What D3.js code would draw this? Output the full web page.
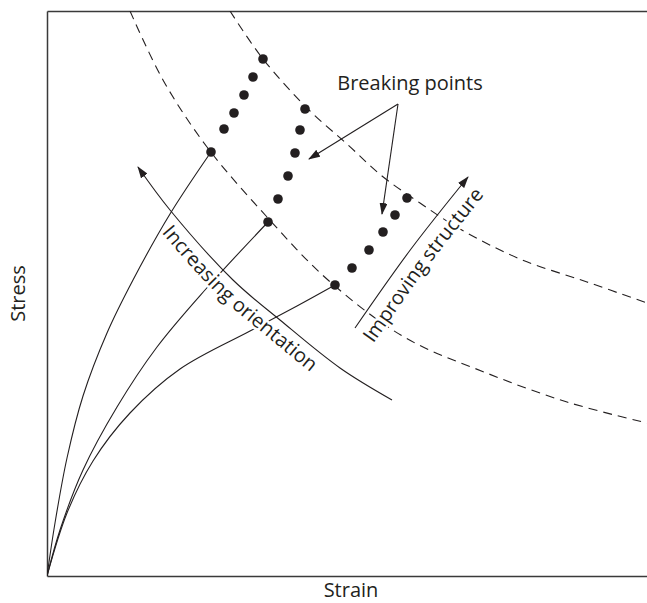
<!DOCTYPE html>
<html>
<head>
<meta charset="utf-8">
<script src="https://cdn.jsdelivr.net/npm/d3@7"></script>
<style>
body { margin: 0; background: #fff; }
svg text { font-family: "Open Sans", sans-serif; fill: #231f20; font-size: 20px; }
</style>
</head>
<body>
<div id="chart"></div>
<script>
// stress-strain curves, [strain, stress] in arbitrary units
const curveHigh = [[0, 0], [8, 53], [20, 118], [36, 180], [60, 243], [86, 296], [123, 362], [164, 424]];
const curveMid = [[0, 0], [13, 46], [36, 106], [70, 169], [110, 229], [158, 286], [221, 354]];
const curveLow = [[0, 0], [20, 63], [46, 115], [83, 163], [133, 207], [203, 245], [250, 270], [288, 291]];

// breaking points of each family
const breaksHigh = [[164, 424], [177, 447], [187, 463], [197, 481], [206, 499], [216, 517]];
const breaksMid = [[221, 354], [231, 377], [241, 400], [248, 423], [253, 446], [258, 467]];
const breaksLow = [[288, 291], [305, 308], [322, 326], [336, 344], [348, 361], [360, 378]];

// dashed envelopes
const envelopeInner = [[83, 565], [116, 496], [160, 429], [220, 359], [281, 296], [357, 239], [437, 204], [520, 174], [600, 153]];
const envelopeOuter = [[183, 565], [216, 517], [263, 465], [300, 432], [335, 400], [373, 373], [413, 347], [473, 317], [540, 294], [600, 273]];

// annotation arrows
const orientationArrow = [[345, 176], [293, 208], [233, 256], [186, 296], [123, 366], [91, 409]];
const structureArrow = [[308, 248], [364, 327], [421, 399]];
const breakLabelAnchor = [363, 486];
const breakArrows = [
	[[351, 472], [262, 417]],
	[[351, 472], [335, 362]]
];

const margin = { top: 11, right: 0, bottom: 27, left: 47 },
	width = 600,
	height = 565;

const ink = "#231f20";

const svg = d3.select("#chart").append("svg")
	.attr("width", width + margin.left + margin.right)
	.attr("height", height + margin.top + margin.bottom);

const defs = svg.append("defs");

defs.append("marker")
	.attr("id", "head")
	.attr("markerUnits", "userSpaceOnUse")
	.attr("viewBox", "0 0 12 8")
	.attr("markerWidth", 12)
	.attr("markerHeight", 8)
	.attr("refX", 11)
	.attr("refY", 4)
	.attr("orient", "auto")
	.append("path")
	.attr("d", "M0,0L12,4L0,8z")
	.attr("fill", ink);

defs.append("clipPath")
	.attr("id", "plot-clip")
	.append("rect")
	.attr("width", width)
	.attr("height", height);

const g = svg.append("g")
	.attr("transform", "translate(" + margin.left + "," + margin.top + ")");

const x = d3.scaleLinear().domain([0, 600]).range([0, width]);
const y = d3.scaleLinear().domain([0, 565]).range([height, 0]);

// frame: left, top and bottom only
g.append("g")
	.attr("transform", "translate(0," + height + ")")
	.call(d3.axisBottom(x).tickValues([]).tickSizeOuter(0));
g.append("g")
	.call(d3.axisLeft(y).tickValues([]).tickSizeOuter(0));
g.append("g")
	.call(d3.axisTop(x).tickValues([]).tickSizeOuter(0));
g.selectAll(".domain")
	.attr("stroke", "#3a3a3a")
	.attr("stroke-width", 1.5);

const smooth = d3.line()
	.x(d => x(d[0]))
	.y(d => y(d[1]))
	.curve(d3.curveCatmullRom.alpha(0.5));

const plot = g.append("g").attr("clip-path", "url(#plot-clip)");

[curveHigh, curveMid, curveLow].forEach(c => {
	plot.append("path")
		.datum(c)
		.attr("d", smooth)
		.attr("fill", "none")
		.attr("stroke", ink)
		.attr("stroke-width", 1.1);
});

[envelopeInner, envelopeOuter].forEach(c => {
	plot.append("path")
		.datum(c)
		.attr("d", smooth)
		.attr("fill", "none")
		.attr("stroke", ink)
		.attr("stroke-width", 1.1)
		.attr("stroke-dasharray", "9,6");
});

plot.selectAll("circle.brk")
	.data(breaksHigh.concat(breaksMid, breaksLow))
	.enter().append("circle")
	.attr("class", "brk")
	.attr("cx", d => x(d[0]))
	.attr("cy", d => y(d[1]))
	.attr("r", 4.8)
	.attr("fill", ink);

g.append("path")
	.datum(orientationArrow)
	.attr("d", smooth)
	.attr("fill", "none")
	.attr("stroke", ink)
	.attr("stroke-width", 1.1)
	.attr("marker-end", "url(#head)");

g.append("path")
	.datum(structureArrow)
	.attr("d", smooth)
	.attr("fill", "none")
	.attr("stroke", ink)
	.attr("stroke-width", 1.1)
	.attr("marker-end", "url(#head)");

breakArrows.forEach(a => {
	g.append("path")
		.datum(a)
		.attr("d", smooth)
		.attr("fill", "none")
		.attr("stroke", ink)
		.attr("stroke-width", 1.1)
		.attr("marker-end", "url(#head)");
});

// baseline path running alongside an arrow, on the text's lower side
function offsetPath(pts, dist, ext) {
	const px = pts.map(d => [x(d[0]), y(d[1])]);
	const out = px.map((p, i) => {
		const a = px[Math.max(i - 1, 0)], b = px[Math.min(i + 1, px.length - 1)];
		const dx = b[0] - a[0], dy = b[1] - a[1], len = Math.hypot(dx, dy);
		return [p[0] - dy / len * dist, p[1] + dx / len * dist];
	});
	const s0 = out[0], s1 = out[1];
	const l = Math.hypot(s1[0] - s0[0], s1[1] - s0[1]);
	out.unshift([s0[0] - (s1[0] - s0[0]) / l * ext, s0[1] - (s1[1] - s0[1]) / l * ext]);
	return d3.line().curve(d3.curveCatmullRom)(out);
}

defs.append("path")
	.attr("id", "orient-path")
	.attr("d", offsetPath(orientationArrow.slice().reverse(), 21, 0));
defs.append("path")
	.attr("id", "struct-path")
	.attr("d", offsetPath(structureArrow, 24, 15));

const haloText = sel => sel
	.attr("stroke", "#fff")
	.attr("stroke-width", 5)
	.attr("stroke-linejoin", "round")
	.attr("paint-order", "stroke");

g.append("text")
	.call(haloText)
	.append("textPath")
	.attr("href", "#orient-path")
	.attr("startOffset", 67)
	.text("Increasing orientation");

g.append("text")
	.call(haloText)
	.append("textPath")
	.attr("href", "#struct-path")
	.attr("startOffset", 13)
	.text("Improving structure");

g.append("text")
	.attr("x", x(breakLabelAnchor[0]))
	.attr("y", y(breakLabelAnchor[1]))
	.attr("text-anchor", "middle")
	.text("Breaking points");

// axis titles
g.append("text")
	.attr("x", width / 2 + 4)
	.attr("y", height + 21)
	.attr("text-anchor", "middle")
	.text("Strain");

g.append("text")
	.attr("transform", "translate(-22," + (height / 2) + ") rotate(-90)")
	.attr("text-anchor", "middle")
	.text("Stress");
</script>
</body>
</html>
